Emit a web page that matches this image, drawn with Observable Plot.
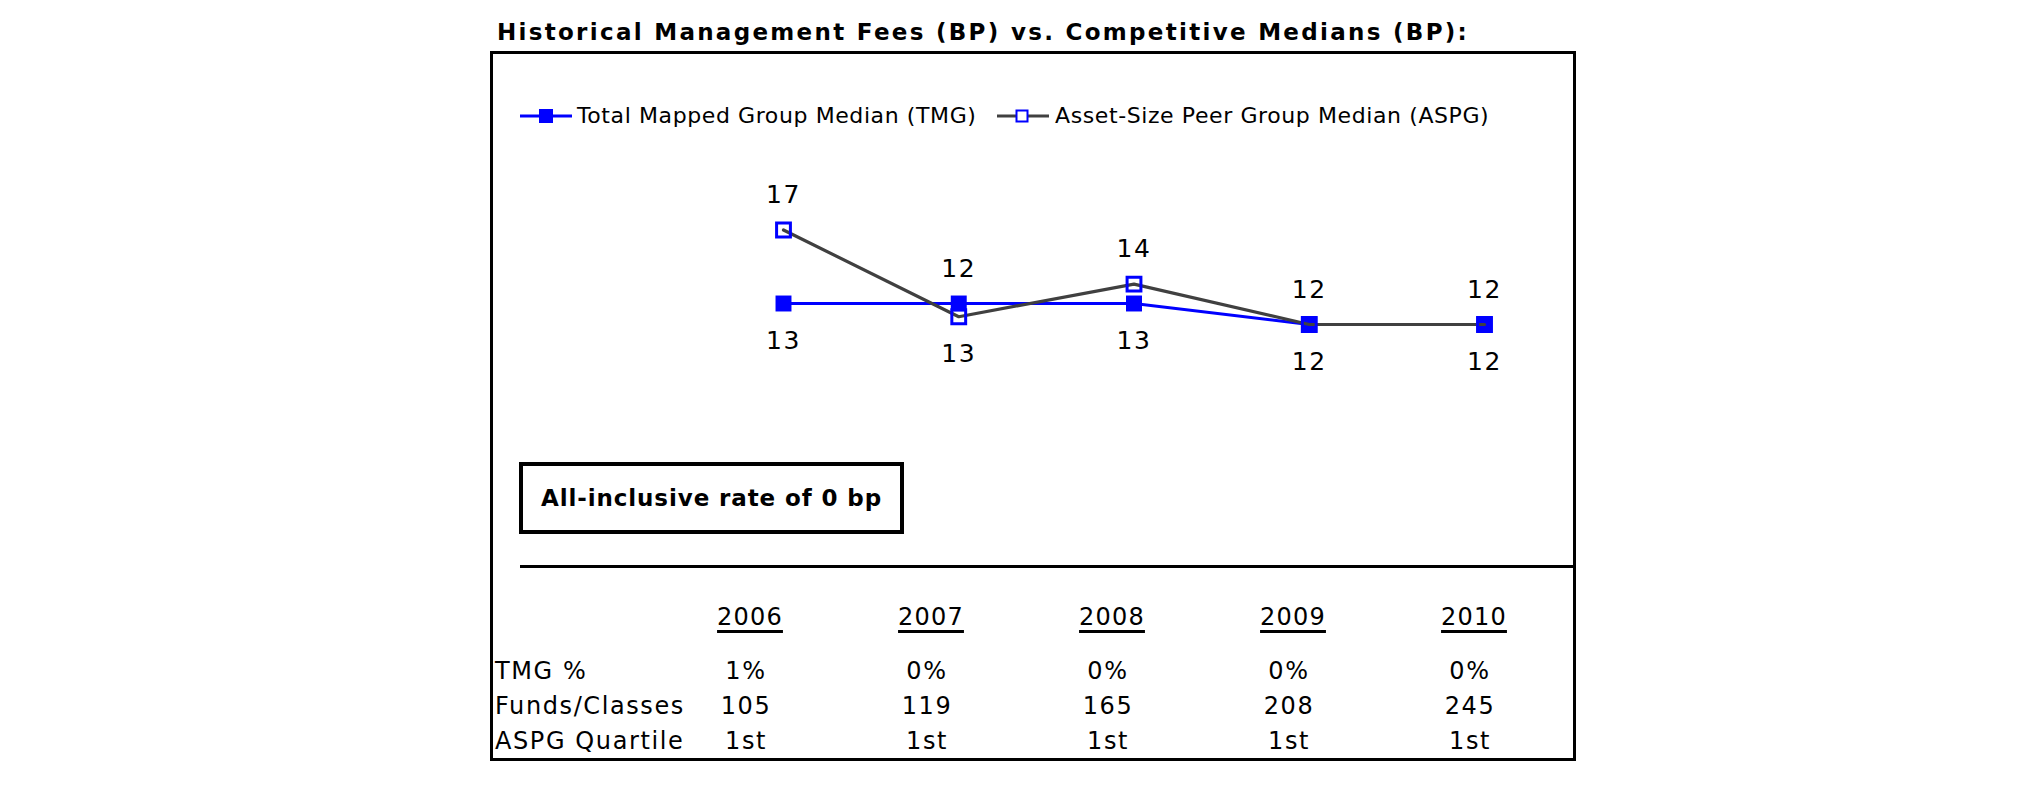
<!DOCTYPE html>
<html>
<head>
<meta charset="utf-8">
<script src="https://cdn.jsdelivr.net/npm/d3@7"></script>
<script src="https://cdn.jsdelivr.net/npm/@observablehq/plot@0.6"></script>
<style>
  html, body { margin: 0; padding: 0; background: #fff; }
  body { width: 2025px; height: 806px; position: relative; overflow: hidden; font-family: "DejaVu Sans", Verdana, sans-serif; color: #000; }
  .t { position: absolute; white-space: nowrap; line-height: 1; }
</style>
</head>
<body>
<script>
// ---------- data ----------
const titleText = "Historical Management Fees (BP) vs. Competitive Medians (BP):";
const years = [2006, 2007, 2008, 2009, 2010];
const tmgMedian = [13, 13, 13, 12, 12];          // Total Mapped Group Median (bp)
const aspgMedian = [16.5, 12.37, 13.92, 12, 12]; // Asset-Size Peer Group Median (bp)
const seriesNames = ["Total Mapped Group Median (TMG)", "Asset-Size Peer Group Median (ASPG)"];
const rateText = "All-inclusive rate of 0 bp";
const rowLabels = ["TMG %", "Funds/Classes", "ASPG Quartile"];
const tmgPct = ["1%", "0%", "0%", "0%", "0%"];
const fundsClasses = [105, 119, 165, 208, 245];
const aspgQuartile = ["1st", "1st", "1st", "1st", "1st"];

// ---------- helpers ----------
const body = document.body;
function txt(text, {x, baseline, fs, weight = "normal", ls = 0, anchor = "start", underline = false}) {
  const d = document.createElement("div");
  d.className = "t";
  d.textContent = text;
  d.style.fontSize = fs + "px";
  d.style.fontWeight = weight;
  d.style.letterSpacing = ls + "px";
  d.style.top = (baseline - 0.846 * fs) + "px";
  d.style.left = x + "px";
  if (anchor === "middle") d.style.transform = "translateX(-50%)";
  if (underline) {
    d.style.textDecoration = "underline";
    d.style.textDecorationThickness = "2.5px";
    d.style.textUnderlineOffset = "5px";
  }
  body.appendChild(d);
  return d;
}
function box(left, top, w, h, css) {
  const d = document.createElement("div");
  d.style.position = "absolute";
  d.style.left = left + "px";
  d.style.top = top + "px";
  d.style.width = w + "px";
  d.style.height = h + "px";
  d.style.boxSizing = "border-box";
  Object.assign(d.style, css);
  body.appendChild(d);
  return d;
}

// ---------- title & frame ----------
txt(titleText, {x: 497, baseline: 40, fs: 23, weight: "bold", ls: 2.3});
box(490, 51, 1086, 710, {border: "3px solid #000"});

// ---------- legend ----------
const lg = document.createElementNS("http://www.w3.org/2000/svg", "svg");
lg.setAttribute("width", 2025); lg.setAttribute("height", 806);
lg.style.position = "absolute"; lg.style.left = "0"; lg.style.top = "0";
lg.innerHTML = `
  <line x1="520" x2="572" y1="116" y2="116" stroke="#0000ff" stroke-width="3"/>
  <rect x="539" y="109" width="14" height="14" fill="#0000ff"/>
  <line x1="997" x2="1049" y1="116" y2="116" stroke="#404040" stroke-width="3"/>
  <rect x="1016.5" y="110.5" width="11" height="11" fill="#fff" stroke="#0000ff" stroke-width="2"/>`;
body.appendChild(lg);
txt(seriesNames[0], {x: 577, baseline: 124, fs: 22, ls: 0.6});
txt(seriesNames[1], {x: 1055, baseline: 124, fs: 22, ls: 0.6});

// ---------- chart ----------
const data = years.map((year, i) => ({year, tmg: tmgMedian[i], aspg: aspgMedian[i]}));
const chart = Plot.plot({
  width: 1086,
  height: 320,
  x: {type: "linear", domain: [2006, 2010], range: [293, 994], axis: null},
  y: {type: "linear", domain: [8, 20], range: [278, 26], axis: null},
  style: {fontFamily: "'DejaVu Sans', Verdana, sans-serif", background: "transparent", overflow: "visible", letterSpacing: "1.5px"},
  marks: [
    Plot.line(data, {x: "year", y: "tmg", stroke: "#0000ff", strokeWidth: 3}),
    Plot.dot(data, {x: "year", y: "tmg", symbol: "square", r: 9, fill: "#0000ff", stroke: "none"}),
    Plot.line(data, {x: "year", y: "aspg", stroke: "#404040", strokeWidth: 3.2}),
    Plot.dot(data, {x: "year", y: "aspg", symbol: "square", r: 7.8, fill: "none", stroke: "#0000ff", strokeWidth: 3}),
    Plot.text(data, {x: "year", y: d => Math.max(d.tmg, d.aspg), text: d => String(Math.round(d.aspg)), dy: -35, fontSize: 25, fill: "#000"}),
    Plot.text(data, {x: "year", y: d => Math.min(d.tmg, d.aspg), text: d => String(Math.round(d.tmg)), dy: 37, fontSize: 25, fill: "#000"})
  ]
});
chart.style.position = "absolute";
chart.style.left = "490px";
chart.style.top = "130px";
body.appendChild(chart);

// ---------- rate box & divider ----------
box(519, 462, 385, 72, {border: "4px solid #000"});
txt(rateText, {x: 541, baseline: 506, fs: 23, weight: "bold", ls: 0.9});
box(520, 565, 1053, 3, {background: "#000"});

// ---------- table ----------
const colX = d3.scalePoint(years, [750, 1474]);
years.forEach(y => txt(String(y), {x: colX(y), baseline: 625, fs: 24, ls: 1.2, anchor: "middle", underline: true}));
const rows = [tmgPct, fundsClasses, aspgQuartile];
const rowBase = [679, 714, 749];
rowLabels.forEach((lab, r) => {
  txt(lab, {x: 495, baseline: rowBase[r], fs: 24, ls: 1.6});
  rows[r].forEach((v, i) => txt(String(v), {x: colX(years[i]) - 4, baseline: rowBase[r], fs: 24, ls: 1.6, anchor: "middle"}));
});
</script>
</body>
</html>
